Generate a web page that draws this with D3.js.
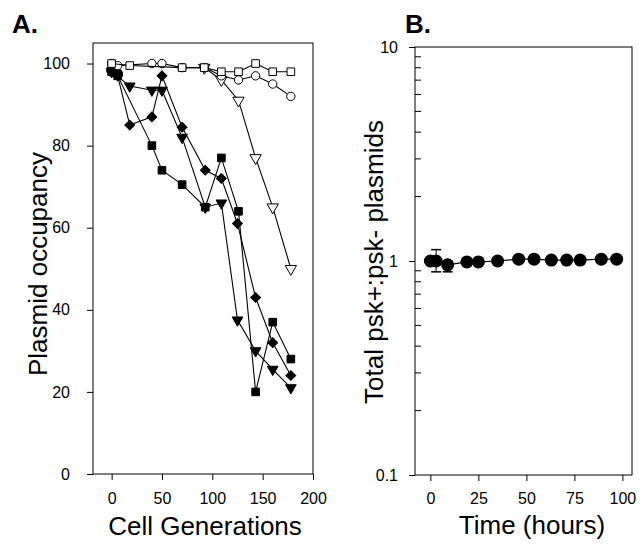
<!DOCTYPE html>
<html>
<head>
<meta charset="utf-8">
<script src="https://d3js.org/d3.v7.min.js"></script>
<style>
  body { margin: 0; background: #fff; }
  text { font-family: "Liberation Sans", Arial, sans-serif; fill: #000; }
</style>
</head>
<body>
<div id="chart"></div>
<script>
// ---- Panel A data (plasmid occupancy vs cell generations) ----
var openSquareGen = [0, 18, 70, 92, 109, 126, 143, 160, 178];
var openSquareVal = [100, 99.5, 99, 99, 98, 98, 100, 98, 98];

var openCircleGen = [0, 6, 40, 50, 70, 92, 109, 126, 143, 160, 178];
var openCircleVal = [100, 99.5, 100, 100, 99, 99, 97, 96, 97, 95, 92];

var openTriGen = [92, 109, 126, 143, 160, 178];
var openTriVal = [99, 96, 91, 77, 65, 50];

var filledSquareGen = [0, 6, 40, 50, 70, 93, 109, 126, 143, 160, 178];
var filledSquareVal = [98, 97, 80, 74, 70.5, 65, 77, 64, 20, 37, 28];

var diamondGen = [0, 6, 18, 40, 50, 70, 93, 109, 125, 143, 160, 178];
var diamondVal = [98, 97, 85, 87, 97, 84.5, 74, 72, 61, 43, 32, 24];

var filledTriGen = [0, 18, 40, 50, 70, 93, 109, 125, 143, 160, 178];
var filledTriVal = [98, 94.5, 93.5, 93.5, 82, 65, 66, 37.5, 30, 25.5, 21];

var filledCircleGen = [0, 6];
var filledCircleVal = [98.5, 97.5];

var xTicksA = [0, 50, 100, 150, 200];
var yTicksA = [0, 20, 40, 60, 80, 100];

// ---- Panel B data (psk+:psk- ratio vs time) ----
var timeB = [0, 3, 9, 19, 25, 35, 46, 54, 63, 71, 78, 89, 97];
var ratioB = [1.0, 1.0, 0.96, 0.99, 0.99, 1.0, 1.02, 1.02, 1.01, 1.01, 1.01, 1.02, 1.02];
var errLoB = [null, 0.89, 0.89, null, null, null, null, null, null, null, null, null, null];
var errHiB = [null, 1.13, null, null, null, null, null, null, null, null, null, null, null];

var xTicksB = [0, 25, 50, 75, 100];
var yTicksB = [0.1, 1, 10];

var svg = d3.select("#chart").append("svg")
  .attr("width", 641)
  .attr("height", 544);

svg.append("rect").attr("width", 641).attr("height", 544).attr("fill", "#fff");

// ================= Panel A =================
var xA = d3.scaleLinear().domain([-18.5, 200]).range([93, 313]);
var yA = d3.scaleLinear().domain([0, 105]).range([474, 43]);

svg.append("text").attr("x", 12).attr("y", 33)
  .attr("font-size", 26).attr("font-weight", "bold").text("A.");

var axA = svg.append("g")
  .attr("transform", "translate(0,474)")
  .call(d3.axisBottom(xA).tickValues(xTicksA).tickSize(6).tickPadding(13));
axA.select(".domain").remove();
axA.selectAll("text").attr("font-size", 16).style("font-family", null);

var ayA = svg.append("g")
  .attr("transform", "translate(93,0)")
  .call(d3.axisLeft(yA).tickValues(yTicksA).tickSize(6).tickPadding(17));
ayA.select(".domain").remove();
ayA.selectAll("text").attr("font-size", 16).style("font-family", null);

svg.append("rect")
  .attr("x", 93).attr("y", 43).attr("width", 220).attr("height", 431)
  .attr("fill", "none").attr("stroke", "#000").attr("stroke-width", 1);

svg.append("text")
  .attr("transform", "translate(47,264) rotate(-90)")
  .attr("text-anchor", "middle").attr("font-size", 26)
  .text("Plasmid occupancy");

svg.append("text")
  .attr("x", 205).attr("y", 535)
  .attr("text-anchor", "middle").attr("font-size", 26)
  .text("Cell Generations");

function drawSeries(gens, vals, sym, size, filled, rot) {
  var pts = gens.map(function(g, i) { return [g, vals[i]]; });
  var line = d3.line().x(function(d) { return xA(d[0]); }).y(function(d) { return yA(d[1]); });
  svg.append("path").datum(pts)
    .attr("d", line).attr("fill", "none").attr("stroke", "#000").attr("stroke-width", 1.1);
  svg.append("g").selectAll("path")
    .data(pts)
    .enter()
    .append("path")
    .attr("d", d3.symbol().type(sym).size(size))
    .attr("transform", function(d) {
      return "translate(" + xA(d[0]) + "," + yA(d[1]) + ") rotate(" + rot + ")";
    })
    .attr("fill", filled ? "#000" : "#fff")
    .attr("stroke", "#000").attr("stroke-width", 1);
}

drawSeries(filledSquareGen, filledSquareVal, d3.symbolSquare, 58, true, 0);
drawSeries(diamondGen, diamondVal, d3.symbolSquare, 48, true, 45);
drawSeries(filledTriGen, filledTriVal, d3.symbolTriangle, 50, true, 180);
drawSeries(filledCircleGen, filledCircleVal, d3.symbolCircle, 75, true, 0);
drawSeries(openTriGen, openTriVal, d3.symbolTriangle, 56, false, 180);
drawSeries(openCircleGen, openCircleVal, d3.symbolCircle, 55, false, 0);
drawSeries(openSquareGen, openSquareVal, d3.symbolSquare, 58, false, 0);

// ================= Panel B =================
var xB = d3.scaleLinear().domain([-8, 105]).range([415, 632]);
var yB = d3.scaleLog().domain([0.1, 10]).range([475, 47]);

svg.append("text").attr("x", 405).attr("y", 33)
  .attr("font-size", 26).attr("font-weight", "bold").text("B.");

var axB = svg.append("g")
  .attr("transform", "translate(0,475)")
  .call(d3.axisBottom(xB).tickValues(xTicksB).tickSize(6).tickPadding(12));
axB.select(".domain").remove();
axB.selectAll("text").attr("font-size", 16).style("font-family", null);

var ayB = svg.append("g")
  .attr("transform", "translate(415,0)")
  .call(d3.axisLeft(yB).tickValues(yTicksB).tickFormat(d3.format("")).tickSize(6).tickPadding(11));
ayB.select(".domain").remove();
ayB.selectAll("text").attr("font-size", 16).style("font-family", null);

// minor log ticks pointing inward
var minorB = [];
[0.1, 1].forEach(function(dec) {
  for (var k = 2; k <= 9; k++) minorB.push(dec * k);
});
svg.append("g").selectAll("line")
  .data(minorB)
  .enter()
  .append("line")
  .attr("x1", 415).attr("x2", 421)
  .attr("y1", function(d) { return yB(d); })
  .attr("y2", function(d) { return yB(d); })
  .attr("stroke", "#000");

svg.append("rect")
  .attr("x", 415).attr("y", 47).attr("width", 217).attr("height", 428)
  .attr("fill", "none").attr("stroke", "#000").attr("stroke-width", 1);

svg.append("text")
  .attr("transform", "translate(383,262) rotate(-90)")
  .attr("text-anchor", "middle").attr("font-size", 26)
  .text("Total psk+:psk- plasmids");

svg.append("text")
  .attr("x", 532).attr("y", 534)
  .attr("text-anchor", "middle").attr("font-size", 26)
  .text("Time (hours)");

var ptsB = timeB.map(function(t, i) {
  return { t: t, r: ratioB[i], lo: errLoB[i], hi: errHiB[i] };
});

// error bars
ptsB.forEach(function(d) {
  if (d.lo !== null) {
    svg.append("line").attr("x1", xB(d.t)).attr("x2", xB(d.t))
      .attr("y1", yB(d.r)).attr("y2", yB(d.lo)).attr("stroke", "#000");
    svg.append("line").attr("x1", xB(d.t) - 5).attr("x2", xB(d.t) + 5)
      .attr("y1", yB(d.lo)).attr("y2", yB(d.lo)).attr("stroke", "#000").attr("stroke-width", 1.5);
  }
  if (d.hi !== null) {
    svg.append("line").attr("x1", xB(d.t)).attr("x2", xB(d.t))
      .attr("y1", yB(d.r)).attr("y2", yB(d.hi)).attr("stroke", "#000");
    svg.append("line").attr("x1", xB(d.t) - 5).attr("x2", xB(d.t) + 5)
      .attr("y1", yB(d.hi)).attr("y2", yB(d.hi)).attr("stroke", "#000").attr("stroke-width", 1.5);
  }
});

svg.append("path").datum(ptsB)
  .attr("d", d3.line().x(function(d) { return xB(d.t); }).y(function(d) { return yB(d.r); }))
  .attr("fill", "none").attr("stroke", "#000").attr("stroke-width", 1.2);

svg.append("g").selectAll("circle")
  .data(ptsB)
  .enter()
  .append("circle")
  .attr("cx", function(d) { return xB(d.t); })
  .attr("cy", function(d) { return yB(d.r); })
  .attr("r", 6.5)
  .attr("fill", "#000");
</script>
</body>
</html>
